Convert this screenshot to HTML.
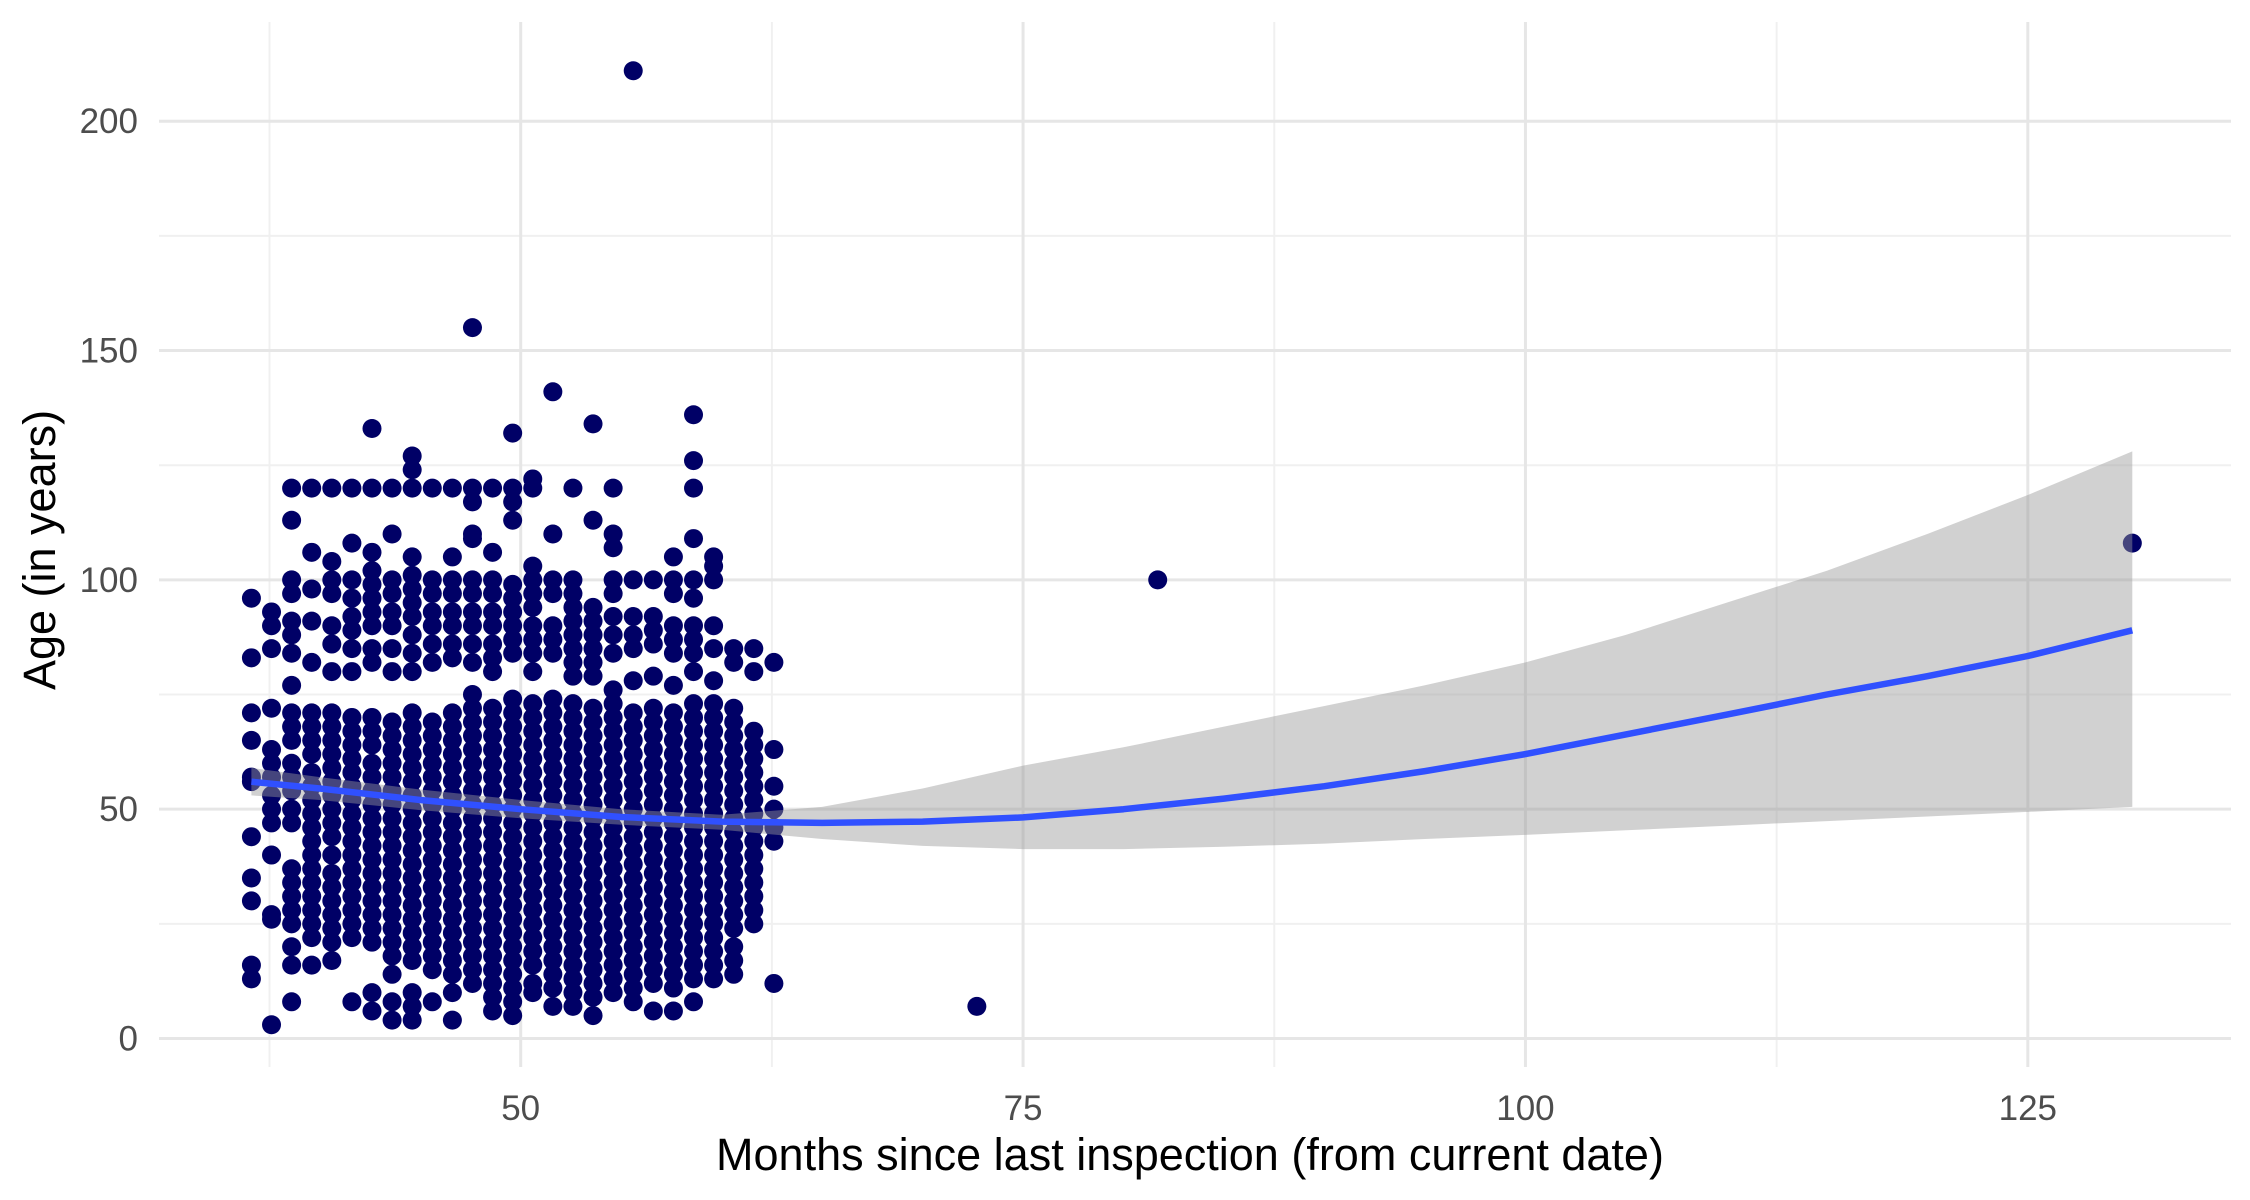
<!DOCTYPE html>
<html><head><meta charset="utf-8"><style>
html,body{margin:0;padding:0;background:#fff;}
svg{display:block;font-family:"Liberation Sans",Arial,sans-serif;}
</style></head><body>
<svg id="chart" width="2250" height="1200" viewBox="0 0 2250 1200" xmlns="http://www.w3.org/2000/svg">
<g id="grid"></g>
<g id="points"></g>
<g id="smooth"></g>
<g id="axes"></g>
<text x="1190" y="1170" font-size="45" text-anchor="middle" fill="#000">Months since last inspection (from current date)</text>
<text transform="translate(55,550) rotate(-90)" font-size="45" text-anchor="middle" fill="#000">Age (in years)</text>
</svg>
<script>
const xTicks = [50, 75, 100, 125];
const xMinor = [37.5, 62.5, 87.5, 112.5];
const yTicks = [0, 50, 100, 150, 200];
const yMinor = [25, 75, 125, 175];
const colMonths = [36.6,37.6,38.6,39.6,40.6,41.6,42.6,43.6,44.6,45.6,46.6,47.6,48.6,49.6,50.6,51.6,52.6,53.6,54.6,55.6,56.6,57.6,58.6,59.6,60.6,61.6,62.6];
const colAges = [
[96,83,71,65,57,56,44,35,30,16,13],
[93,90,85,72,63,60,57,53,50,47,40,27,26,3],
[120,113,100,97,91,88,84,77,71,68,65,60,57,54,50,47,37,34,31,28,25,20,16,8],
[120,106,98,91,82,71,68,65,62,58,55,52,49,46,43,40,37,34,31,28,25,22,16],
[120,104,100,97,90,86,80,71,68,65,62,59,56,53,50,47,44,40,36,33,30,27,24,21,17],
[120,108,100,96,92,89,85,80,70,67,64,61,58,55,52,49,46,43,40,37,34,31,28,25,22,8],
[133,120,106,102,99,96,93,90,85,82,70,67,64,60,57,54,51,48,45,42,39,36,33,30,27,24,21,10,6],
[120,110,100,97,93,90,85,80,69,66,63,60,57,54,51,48,45,42,39,36,33,30,27,24,21,18,14,8,4],
[127,124,120,105,101,98,95,92,88,84,80,71,68,65,62,59,56,53,50,47,44,41,38,35,32,29,26,23,20,17,10,7,4],
[120,100,97,93,90,86,82,69,66,63,60,57,54,51,48,45,42,39,36,33,30,27,24,21,18,15,8],
[120,105,100,97,93,90,86,83,71,68,65,62,59,56,53,50,47,44,41,38,35,32,29,26,23,20,17,14,10,4],
[155,120,117,110,109,100,97,93,90,86,82,75,72,69,66,63,60,57,54,51,48,45,42,39,36,33,30,27,24,21,18,15,12],
[120,106,100,97,93,90,86,83,80,72,69,66,63,60,57,54,51,48,45,42,39,36,33,30,27,24,21,18,15,12,9,6],
[132,120,117,113,99,96,93,90,87,84,74,71,68,65,62,59,56,53,50,47,44,41,38,35,32,29,26,23,20,17,14,11,8,5],
[122,120,103,100,97,94,90,87,84,80,73,70,67,64,61,58,55,52,49,46,43,40,37,34,31,28,25,22,19,16,12,10],
[141,110,100,97,90,87,84,74,71,68,65,62,59,56,53,50,47,44,41,38,35,32,29,26,23,20,17,14,11,7],
[120,100,97,94,91,88,85,82,79,73,70,67,64,61,58,55,52,49,46,43,40,37,34,31,28,25,22,19,16,13,10,7],
[134,113,94,91,88,85,82,79,72,69,66,63,60,57,54,51,48,45,42,39,36,33,30,27,24,21,18,15,12,9,5],
[120,110,107,100,97,92,88,84,76,73,70,67,64,61,58,55,52,49,46,43,40,37,34,31,28,25,22,19,16,13,10],
[211,100,92,88,85,78,71,68,65,62,59,56,53,50,47,44,41,38,35,32,29,26,23,20,17,14,11,8],
[100,92,89,86,79,72,69,66,63,60,57,54,51,48,45,42,39,36,33,30,27,24,21,18,15,12,6],
[105,100,97,90,87,84,77,71,68,65,62,59,56,53,50,47,44,41,38,35,32,29,26,23,20,17,14,11,6],
[136,126,120,109,100,96,90,87,84,80,73,70,67,64,61,58,55,52,49,46,43,40,37,34,31,28,25,22,19,16,13,8],
[105,103,100,90,85,78,73,70,67,64,61,58,55,52,49,46,43,40,37,34,31,28,25,22,19,16,13],
[85,82,72,69,66,63,60,57,54,51,48,45,42,39,36,33,30,27,24,20,17,14],
[85,80,67,64,61,58,55,52,49,46,43,40,37,34,31,28,25],
[82,63,55,50,46,43,12]
];
const outlierMonths = [72.7, 81.7, 130.2];
const outlierAges = [7, 100, 108];
const fitMonths = [36.6,40,45,50,55,60,65,70,75,80,85,90,95,100,105,110,115,120,125,130.2];
const fitValues = [56,54.5,52,50,48.3,47.3,47,47.3,48.2,50,52.3,55,58.3,62,66.3,70.6,75,79,83.4,89];
const bandUpper = [59,57,54.3,52,50,48.8,50.5,54.5,59.5,63.5,68,72.5,77,82,88,95,102,110,118.5,128];
const bandLower = [53,52,49.8,48,46.6,45.5,43.5,42,41.3,41.3,41.8,42.5,43.5,44.4,45.4,46.4,47.4,48.4,49.4,50.5];

const NS = "http://www.w3.org/2000/svg";
const L = 159, R = 2231, T = 22, B = 1067;
const xs = v => 520.7 + (v - 50) * 20.095;
const ys = v => 1038.5 - v * 4.5865;
function mk(tag, attrs, parent) { const e = document.createElementNS(NS, tag); for (const k in attrs) e.setAttribute(k, attrs[k]); parent.appendChild(e); return e; }
const grid = document.getElementById('grid');
xMinor.forEach(v => { const l = mk('line', {x1: xs(v), x2: xs(v), y1: T, y2: B, stroke: '#f0f0f0', 'stroke-width': 2}, grid);

 });
yMinor.forEach(v => { const l = mk('line', {x1: L, x2: R, y1: ys(v), y2: ys(v), stroke: '#f0f0f0', 'stroke-width': 2}, grid);

 });
xTicks.forEach(v => { const l = mk('line', {x1: xs(v), x2: xs(v), y1: T, y2: B, stroke: '#e6e6e6', 'stroke-width': 3}, grid);

 });
yTicks.forEach(v => { const l = mk('line', {x1: L, x2: R, y1: ys(v), y2: ys(v), stroke: '#e6e6e6', 'stroke-width': 3}, grid);

 });
const axes = document.getElementById('axes');
xTicks.forEach(v => { const t = mk('text', {x: xs(v), y: 1120, 'font-size': 35, 'text-anchor': 'middle', fill: '#4d4d4d'}, axes); t.textContent = v;

 });
yTicks.forEach(v => { const t = mk('text', {x: 138, y: ys(v) + 12, 'font-size': 35, 'text-anchor': 'end', fill: '#4d4d4d'}, axes); t.textContent = v;

 });
const pts = document.getElementById('points');
colMonths.forEach((m, i) => colAges[i].forEach(a => { const c = mk('circle', {cx: xs(m), cy: ys(a), r: 9.5, fill: '#000066'}, pts);

 }));
outlierMonths.forEach((m, i) => { const c = mk('circle', {cx: xs(m), cy: ys(outlierAges[i]), r: 9.5, fill: '#000066'}, pts);

 });
const sm = document.getElementById('smooth');
let d = fitMonths.map((m, i) => (i ? 'L' : 'M') + xs(m).toFixed(1) + ',' + ys(bandUpper[i]).toFixed(1)).join(' ');
for (let i = fitMonths.length - 1; i >= 0; i--) d += ' L' + xs(fitMonths[i]).toFixed(1) + ',' + ys(bandLower[i]).toFixed(1);
const band = mk('path', {d: d + ' Z', fill: '#999999', 'fill-opacity': 0.45}, sm);


const ld = fitMonths.map((m, i) => (i ? 'L' : 'M') + xs(m).toFixed(1) + ',' + ys(fitValues[i]).toFixed(1)).join(' ');
const line = mk('path', {d: ld, fill: 'none', stroke: '#3050ff', 'stroke-width': 6.5, 'stroke-linejoin': 'round'}, sm);


</script>
</body></html>
